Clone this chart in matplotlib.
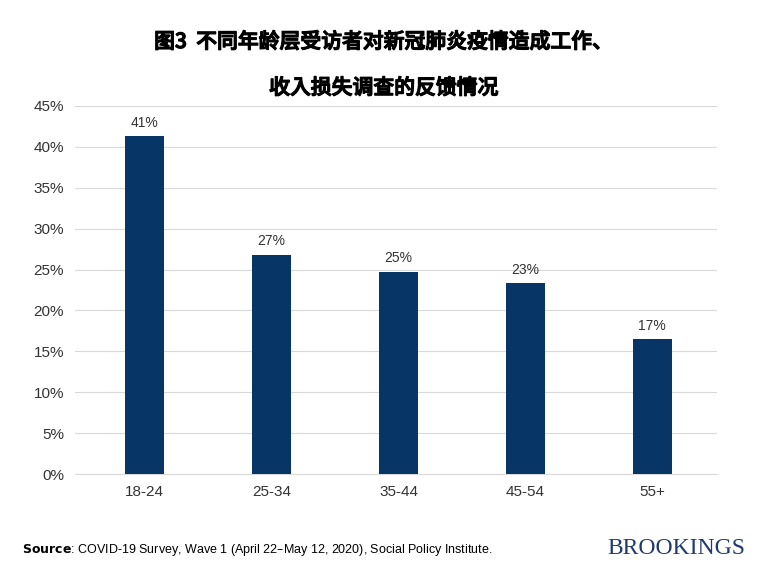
import matplotlib
matplotlib.use("Agg")
import matplotlib.pyplot as plt
from matplotlib import font_manager as fm
import matplotlib.patheffects as pe

categories = ["18-24", "25-34", "35-44", "45-54", "55+"]
values = [41.3, 26.8, 24.7, 23.3, 16.5]
labels = ["41%", "27%", "25%", "23%", "17%"]
yticks = list(range(0, 50, 5))

cjk = None
for f in fm.fontManager.ttflist:
    if "CJK" in f.name and "SC" in f.name:
        if cjk is None or f.weight in ("bold", 700):
            cjk = f.fname
if cjk is None:
    for f in fm.fontManager.ttflist:
        if "CJK" in f.name:
            cjk = f.fname
            break
tprop = fm.FontProperties(fname=cjk, size=15, weight="bold")
bold = [pe.withStroke(linewidth=0.9, foreground="black")]

fig = plt.figure(figsize=(7.68, 5.76), dpi=100)
ax = fig.add_axes([75/768, 1-474/576, (717-75)/768, (474-106)/576])
x = range(len(categories))
ax.bar(x, values, width=0.31, color="#063566", zorder=3)
for i, (v, l) in enumerate(zip(values, labels)):
    ax.text(i, v + 0.8, l, ha="center", va="bottom", fontsize=10, color="#333333", family="Liberation Sans")
ax.set_xlim(-0.55, 4.51)
ax.set_ylim(0, 45)
ax.set_yticks(yticks)
ax.set_yticklabels([f"{t}%" for t in yticks], family="Liberation Sans", fontsize=11, color="#333333")
ax.set_xticks(list(x))
ax.set_xticklabels(categories, family="Liberation Sans", fontsize=11, color="#333333")
ax.grid(axis="y", color="#d9d9d9", linewidth=0.8, zorder=0)
for s in ["top", "right", "left"]:
    ax.spines[s].set_visible(False)
ax.spines["bottom"].set_color("#d9d9d9")
ax.tick_params(length=0, pad=8)

fig.text(0.5, 1-42/576, "图3  不同年龄层受访者对新冠肺炎疫情造成工作、", ha="center", va="center",
         fontproperties=tprop, path_effects=bold)
fig.text(0.5, 1-88/576, "收入损失调查的反馈情况", ha="center", va="center",
         fontproperties=tprop, path_effects=bold)
fig.text(22/768, 1-550/576, r"$\bf{Source}$: COVID-19 Survey, Wave 1 (April 22–May 12, 2020), Social Policy Institute.",
         ha="left", va="center", fontsize=9, family="Liberation Sans")
fig.text(745/768, 1-548/576, "BROOKINGS", ha="right", va="center", fontsize=17,
         family="Liberation Serif", color="#1f3b6e")
fig.savefig("out.png", dpi=100)
